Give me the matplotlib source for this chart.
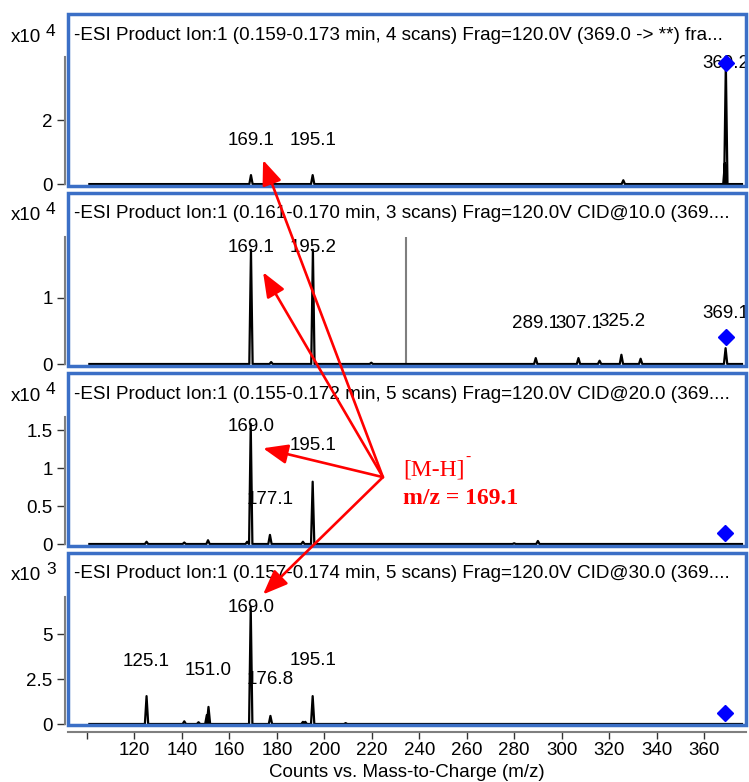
import matplotlib
matplotlib.use("Agg")
from matplotlib import pyplot as plt
from matplotlib.patches import Rectangle, ConnectionPatch
import numpy as np

plt.rcParams['font.family'] = ['Liberation Sans', 'DejaVu Sans']

# ---- datos (intensidades en unidades de x10^exp) ----
titulos = [
    "-ESI Product Ion:1 (0.159-0.173 min, 4 scans) Frag=120.0V (369.0 -> **) fra...",
    "-ESI Product Ion:1 (0.161-0.170 min, 3 scans) Frag=120.0V CID@10.0 (369....",
    "-ESI Product Ion:1 (0.155-0.172 min, 5 scans) Frag=120.0V CID@20.0 (369....",
    "-ESI Product Ion:1 (0.157-0.174 min, 5 scans) Frag=120.0V CID@30.0 (369....",
]
exponentes = [4, 4, 4, 3]

p1_mz = [169.1, 195.1, 326.0, 368.8, 369.2]
p1_int = [0.28, 0.28, 0.12, 0.65, 3.78]

p2_mz = [169.1, 177.6, 195.2, 219.8, 289.1, 307.1, 316.0, 325.2, 333.3, 369.1]
p2_int = [1.73, 0.03, 1.73, 0.02, 0.09, 0.09, 0.05, 0.14, 0.08, 0.24]

p3_mz = [125.1, 141.0, 151.0, 167.5, 169.0, 177.1, 191.0, 195.1, 280.0, 290.0]
p3_int = [0.03, 0.02, 0.05, 0.03, 1.58, 0.12, 0.03, 0.82, 0.01, 0.04]

p4_mz = [125.1, 141.0, 147.0, 150.5, 151.2, 169.0, 177.3, 191.0, 192.0, 195.1, 209.0]
p4_int = [1.55, 0.15, 0.10, 0.50, 0.95, 6.5, 0.45, 0.12, 0.12, 1.55, 0.05]

# etiquetas de picos: (texto, m/z, altura)
p1_etq = [("169.1", 169.1, 1.37), ("195.1", 195.1, 1.37), ("369.2", 369.2, 3.78)]
p2_etq = [("169.1", 169.1, 1.77), ("195.2", 195.2, 1.77), ("289.1", 289.1, 0.62),
          ("307.1", 307.1, 0.62), ("325.2", 325.2, 0.65), ("369.1", 369.1, 0.77)]
p3_etq = [("169.0", 169.0, 1.54), ("195.1", 195.1, 1.29), ("177.1", 177.1, 0.58)]
p4_etq = [("169.0", 169.0, 6.5), ("125.1", 125.1, 3.5), ("151.0", 151.0, 2.95),
          ("176.8", 177.3, 2.5), ("195.1", 195.1, 3.55)]

# precursor (rombo azul)
prec_mz = [369.2, 369.1, 369.0, 369.0]
prec_int = [3.78, 0.41, 0.14, 0.6]

# linea gris (cursor) en el panel 2
cursor_mz = 234.6
cursor_int = 1.92

mz_todos = [p1_mz, p2_mz, p3_mz, p4_mz]
int_todos = [p1_int, p2_int, p3_int, p4_int]
etq_todas = [p1_etq, p2_etq, p3_etq, p4_etq]

ylims = [(-0.06, 5.31), (-0.03, 2.59), (-0.026, 2.25), (-0.055, 9.5)]
yticks = [[0, 2], [0, 1], [0, 0.5, 1, 1.5], [0, 2.5, 5]]
ytick_lbl = [["0", "2"], ["0", "1"], ["0", "0.5", "1", "1.5"], ["0", "2.5", "5"]]
eje_tope = [3.97, 1.92, 1.67, 7.05]

xticks = list(range(100, 361, 20))
xtick_lbl = [""] + [str(v) for v in xticks[1:]]

# origen y puntas de las flechas
flecha_origen = (224.7, 0.88)
flecha_puntas = [(174.2, 0.75), (174.2, 1.39), (174.2, 1.26), (174.2, 7.2)]

W, H = 749, 782
fig = plt.figure(figsize=(W / 100, H / 100), dpi=100)

cajas = [(14, 186), (193, 366), (373, 546), (553, 725)]
izq, der = 68, 746
azul = '#3b6fc6'
gris = '#7f7f7f'
fs = 13.5

def perfil(mz, inten, w=0.7):
    xs = [101.0]
    ys = [0.0]
    for m, h in sorted(zip(mz, inten)):
        xs += [m - w, m, m + w]
        ys += [0.0, h, 0.0]
    xs.append(376.0)
    ys.append(0.0)
    return np.array(xs), np.array(ys)

ejes = []
for i in range(4):
    top, bot = cajas[i]
    ax = fig.add_axes([izq / W, 1 - bot / H, (der - izq) / W, (bot - top) / H])
    ax.set_facecolor('none')
    ejes.append(ax)

    x, y = perfil(mz_todos[i], int_todos[i])
    ax.plot(x, y, color='black', lw=1.6, zorder=3)

    for txt, m, h in etq_todas[i]:
        ax.text(m, h, txt, ha='center', va='center', fontsize=fs, zorder=2, clip_on=True)

    ax.plot(prec_mz[i], prec_int[i], marker='D', color='#0000ff', ms=8.5, zorder=4, clip_on=False)

    if i == 1:
        ax.vlines(cursor_mz, 0, cursor_int, color=gris, lw=1.5)

    ax.set_xlim(92, 377.7)
    ax.set_ylim(*ylims[i])

    for s in ['top', 'right']:
        ax.spines[s].set_visible(False)
    ax.spines['left'].set_color(gris)
    ax.spines['left'].set_linewidth(1.5)
    ax.spines['left'].set_position(('outward', 2))
    ax.spines['left'].set_bounds(0, eje_tope[i])
    ax.set_yticks(yticks[i])
    ax.set_yticklabels(ytick_lbl[i])
    ax.tick_params(axis='y', length=6, width=1, color='#333333', pad=3, labelsize=fs)

    if i < 3:
        ax.spines['bottom'].set_visible(False)
        ax.set_xticks([])
    else:
        ax.spines['bottom'].set_color(gris)
        ax.spines['bottom'].set_linewidth(1.5)
        ax.spines['bottom'].set_position(('outward', 5))
        ax.set_xticks(xticks)
        ax.set_xticklabels(xtick_lbl)
        ax.tick_params(axis='x', length=5, width=1, color='#333333', pad=2, labelsize=fs)
        ax.set_xlabel("Counts vs. Mass-to-Charge (m/z)", fontsize=fs, labelpad=4)

    ax.add_patch(Rectangle((0, 0), 1, 1, transform=ax.transAxes, fill=False,
                           edgecolor=azul, lw=2.5, clip_on=False, zorder=5))
    ax.text(6 / (der - izq), 1 - 21 / (bot - top), titulos[i], transform=ax.transAxes,
            ha='left', va='center', fontsize=13.6)

    fig.text(11 / W, 1 - (top + 23) / H, "x10", ha='left', va='center', fontsize=fs)
    fig.text(46 / W, 1 - (top + 17) / H, str(exponentes[i]), ha='left', va='center', fontsize=12.5)

# flechas rojas
for i in range(4):
    cp = ConnectionPatch(xyA=flecha_origen, coordsA=ejes[2].transData,
                         xyB=flecha_puntas[i], coordsB=ejes[i].transData,
                         arrowstyle='-|>,head_length=0.75,head_width=0.3',
                         mutation_scale=20, color='#ff0000', lw=1.9,
                         shrinkA=0, shrinkB=0, zorder=10)
    fig.add_artist(cp)

serif = ['Liberation Serif', 'DejaVu Serif']
fig.text(403 / W, 1 - 470 / H, "[M-H]", color='#ff0000', fontsize=17,
         family=serif, ha='left', va='center')
fig.text(465 / W, 1 - 457 / H, "-", color='#ff0000', fontsize=11,
         family=serif, ha='left', va='center')
fig.text(403 / W, 1 - 498 / H, "m/z = 169.1", color='#ff0000', fontsize=17,
         family=serif, fontweight='bold', ha='left', va='center')

fig.savefig("out.png", dpi=100)
